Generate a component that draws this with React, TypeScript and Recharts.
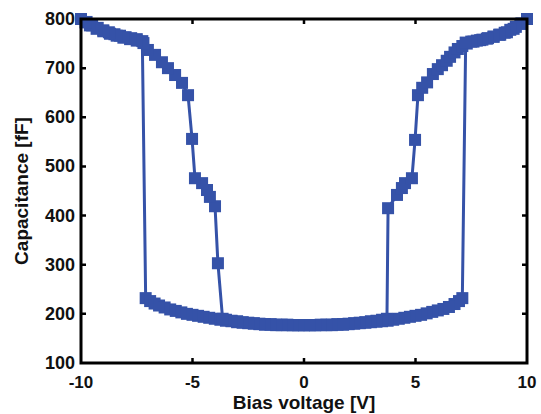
import React from 'react';
import { LineChart, Line, XAxis, YAxis, Label } from 'recharts';

// forward sweep, -10 V -> +10 V  [V, fF]
const fwdOuterLeft = [
  [-10, 800], [-9.75, 794], [-9.5, 787], [-9.25, 782], [-9, 777], [-8.75, 773],
  [-8.5, 769], [-8.25, 766], [-8, 763], [-7.75, 761], [-7.5, 759], [-7.25, 755],
];
const fwdBottom = [
  [-7.1, 232], [-6.9, 226], [-6.7, 221], [-6.5, 217], [-6.25, 213], [-6, 209],
  [-5.75, 206], [-5.5, 203], [-5.25, 200], [-5, 198], [-4.75, 196], [-4.5, 194],
  [-4.25, 192], [-4, 190], [-3.75, 188], [-3.5, 186], [-3.25, 185], [-3, 183],
  [-2.75, 182], [-2.5, 181], [-2.25, 180], [-2, 179], [-1.75, 178], [-1.5, 178],
  [-1.25, 177], [-1, 177], [-0.75, 177], [-0.5, 177], [-0.25, 177], [0, 177],
  [0.25, 177], [0.5, 177], [0.75, 178], [1, 178], [1.25, 178], [1.5, 179],
  [1.75, 179], [2, 180], [2.25, 181], [2.5, 182], [2.75, 183], [3, 185],
  [3.25, 186], [3.5, 188], [3.72, 190],
];
const fwdInnerRight = [
  [3.77, 415], [4.17, 442], [4.39, 456], [4.53, 466], [4.84, 476], [4.98, 554],
  [5.11, 645], [5.3, 660], [5.52, 671], [5.78, 688], [6, 698], [6.19, 706],
  [6.4, 715], [6.55, 723], [6.75, 732], [6.9, 739], [7.1, 745], [7.3, 750],
  [7.6, 754], [7.9, 757], [8.2, 760], [8.5, 764], [8.8, 768], [9.1, 773],
  [9.4, 780], [9.7, 790], [10, 800],
];

// backward sweep, +10 V -> -10 V
const bwdOuterRight = [
  [10, 800], [9.75, 791], [9.5, 784], [9.25, 778], [9, 772], [8.75, 768],
  [8.5, 764], [8.25, 761], [8, 758], [7.75, 756], [7.5, 754], [7.25, 752],
];
const bwdBottom = [
  [7.1, 232], [6.95, 226], [6.75, 220], [6.5, 214], [6.25, 210], [6, 207],
  [5.75, 204], [5.5, 201], [5.25, 198], [5, 196], [4.75, 194], [4.5, 192],
  [4.25, 190], [4, 188], [3.75, 186], [3.5, 185], [3.25, 184], [3, 183],
  [2.75, 182], [2.5, 181], [2.25, 180], [2, 179], [1.75, 178], [1.5, 178],
  [1.25, 177], [1, 177], [0.75, 177], [0.5, 177], [0.25, 177], [0, 177],
  [-0.25, 177], [-0.5, 177], [-0.75, 178], [-1, 178], [-1.25, 178], [-1.5, 179],
  [-1.75, 179], [-2, 180], [-2.25, 181], [-2.5, 182], [-2.75, 183], [-3, 185],
  [-3.25, 186], [-3.5, 188], [-3.65, 190],
];
const bwdInnerLeft = [
  [-3.86, 303], [-3.99, 419], [-4.22, 438], [-4.35, 452], [-4.57, 466], [-4.89, 476],
  [-5.02, 556], [-5.2, 645], [-5.47, 670], [-5.78, 686], [-6.1, 700], [-6.37, 712],
  [-6.68, 727], [-7, 737], [-7.2, 751], [-7.5, 756], [-7.8, 759], [-8.1, 762],
  [-8.4, 766], [-8.7, 770], [-9, 775], [-9.3, 780], [-9.6, 787], [-9.8, 793],
  [-10, 800],
];

const xTicks = [-10, -5, 0, 5, 10];
const yTicks = [100, 200, 300, 400, 500, 600, 700, 800];
const X_DOMAIN = [-10, 10];
const Y_DOMAIN = [100, 800];

const toPts = (arr: number[][]) => arr.map(([v, c]) => ({ v, c }));
const forward = toPts([...fwdOuterLeft, ...fwdBottom, ...fwdInnerRight]);
const backward = toPts([...bwdOuterRight, ...bwdBottom, ...bwdInnerLeft]);

const W = 541, H = 414;
const M = { top: 19, right: 14, bottom: 0, left: 0 };
const X_AXIS_H = 51, Y_AXIS_W = 81;
const PLOT_L = M.left + Y_AXIS_W;
const PLOT_T = M.top;
const PLOT_W = W - M.left - M.right - Y_AXIS_W;
const PLOT_H = H - M.top - M.bottom - X_AXIS_H;
const px = (v: number) => PLOT_L + ((v - X_DOMAIN[0]) / (X_DOMAIN[1] - X_DOMAIN[0])) * PLOT_W;
const py = (c: number) => PLOT_T + PLOT_H - ((c - Y_DOMAIN[0]) / (Y_DOMAIN[1] - Y_DOMAIN[0])) * PLOT_H;

const BLUE = '#3552a8';
const FONT = '"Liberation Sans", Arial, sans-serif';
const TICK_LEN = 5;
const SQ = 12;

const SquareDot = (props: any) => {
  const { cx, cy, index } = props;
  if (cx == null || cy == null) return null;
  return <rect key={`sq-${index}`} x={cx - SQ / 2} y={cy - SQ / 2} width={SQ} height={SQ} fill={BLUE} />;
};

const BottomTick = ({ x, y, payload }: any) => (
  <text x={x} y={y + 19} textAnchor="middle" dominantBaseline="central"
    fontFamily={FONT} fontWeight="bold" fontSize={17} fill="#111">{payload.value}</text>
);

const LeftTick = ({ x, y, payload }: any) => (
  <text x={x - 6} y={y} textAnchor="end" dominantBaseline="central"
    fontFamily={FONT} fontWeight="bold" fontSize={18} fill="#111">{payload.value}</text>
);

// MATLAB-style box with inward ticks on all four sides
const Frame = () => {
  const bottom = PLOT_T + PLOT_H;
  const right = PLOT_L + PLOT_W;
  let d = '';
  xTicks.slice(1, -1).forEach((t) => {
    const x = px(t);
    d += `M${x},${bottom}V${bottom - TICK_LEN}M${x},${PLOT_T}V${PLOT_T + TICK_LEN}`;
  });
  yTicks.slice(1, -1).forEach((t) => {
    const y = py(t);
    d += `M${PLOT_L},${y}H${PLOT_L + TICK_LEN}M${right},${y}H${right - TICK_LEN}`;
  });
  return (
    <svg width={W} height={H} style={{ position: 'absolute', left: 0, top: 0, pointerEvents: 'none' }}>
      <rect x={PLOT_L} y={PLOT_T} width={PLOT_W} height={PLOT_H} fill="none" stroke="#000" strokeWidth={3} />
      <path d={d} stroke="#000" strokeWidth={2.5} fill="none" />
    </svg>
  );
};

export default function App() {
  return (
    <div style={{ position: 'absolute', left: 0, top: 0, width: W, height: H, background: '#fff' }}>
      <LineChart width={W} height={H} margin={M}>
        <XAxis
          type="number" dataKey="v" domain={X_DOMAIN} ticks={xTicks} height={X_AXIS_H}
          axisLine={false} tickLine={false}
          tickSize={0} tickMargin={0} tick={<BottomTick />} interval={0}
        >
          <Label content={() => (
            <text x={304} y={402} textAnchor="middle" dominantBaseline="central"
              fontFamily={FONT} fontWeight="bold" fontSize={19} fill="#111">Bias voltage [V]</text>
          )} />
        </XAxis>
        <YAxis
          type="number" domain={Y_DOMAIN} ticks={yTicks} width={Y_AXIS_W}
          axisLine={false} tickLine={false}
          tickSize={0} tickMargin={0} tick={<LeftTick />} interval={0}
        >
          <Label content={() => (
            <text x={21} y={191} transform="rotate(-90 21 191)" textAnchor="middle" dominantBaseline="central"
              fontFamily={FONT} fontWeight="bold" fontSize={19} fill="#111">Capacitance [fF]</text>
          )} />
        </YAxis>
        <Line data={forward} dataKey="c" type="linear" stroke={BLUE} strokeWidth={3}
          dot={SquareDot} activeDot={false} isAnimationActive={false} />
        <Line data={backward} dataKey="c" type="linear" stroke={BLUE} strokeWidth={3}
          dot={SquareDot} activeDot={false} isAnimationActive={false} />
      </LineChart>
      <Frame />
    </div>
  );
}
